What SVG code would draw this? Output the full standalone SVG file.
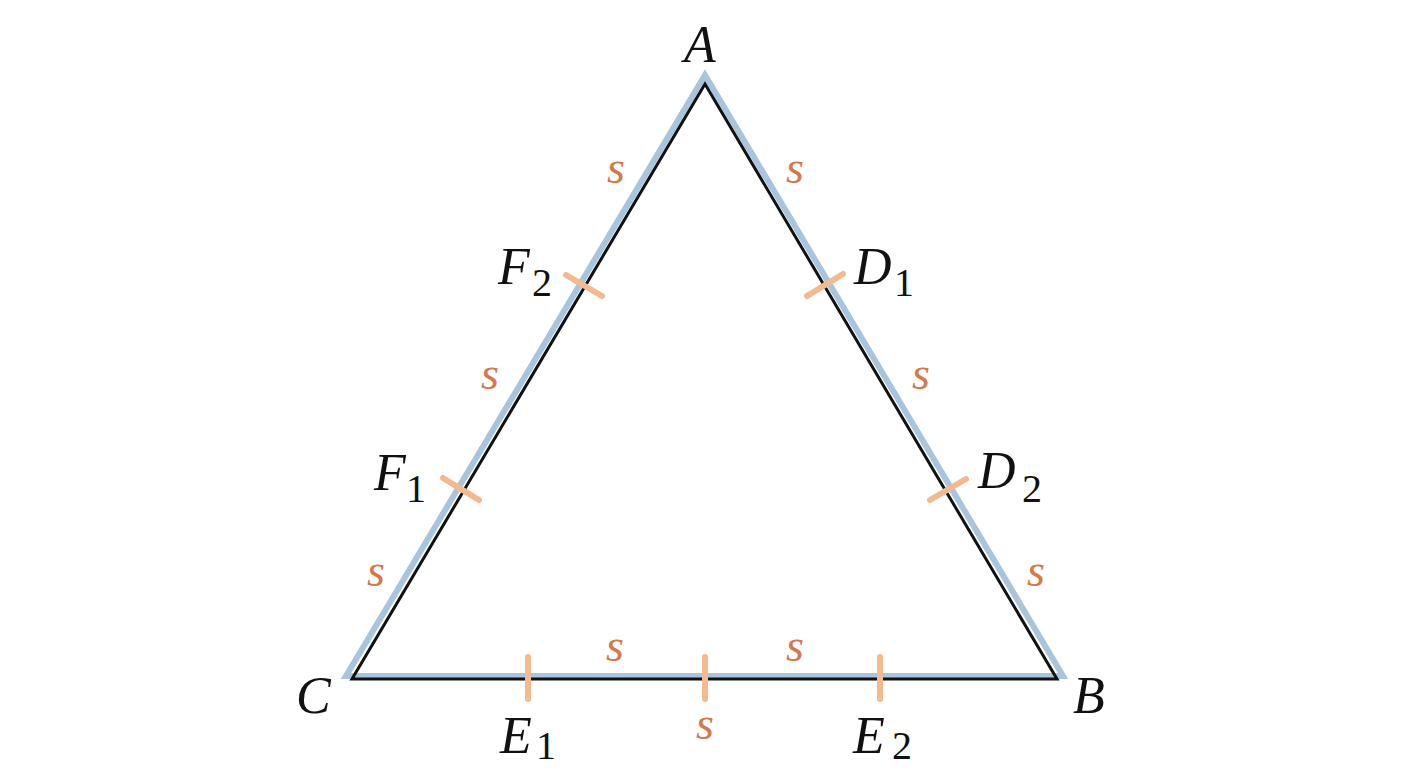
<svg xmlns="http://www.w3.org/2000/svg" width="1408" height="768" viewBox="0 0 1408 768">
<defs>
<style>
.tick{stroke:#f3b98f;stroke-width:6;stroke-linecap:round}
</style>
</defs>
<rect width="1408" height="768" fill="#fff"/>
<g id="connectors">
<polygon points="705,75 1063,676 346,676" fill="none" stroke="#a9c5de" stroke-width="6" stroke-linejoin="miter"/>
<polygon points="705,84 1057,679 352,679" fill="none" stroke="#111" stroke-width="3" stroke-linejoin="miter"/>
</g>
<g id="ticks">
<line class="tick" x1="566" y1="275" x2="602" y2="296"/>
<line class="tick" x1="443" y1="478" x2="479" y2="500"/>
<line class="tick" x1="807" y1="296" x2="843" y2="274"/>
<line class="tick" x1="930" y1="500" x2="966" y2="479"/>
<line class="tick" x1="528" y1="657" x2="528" y2="699"/>
<line class="tick" x1="705" y1="657" x2="705" y2="699"/>
<line class="tick" x1="880" y1="657" x2="880" y2="699"/>
</g>
<g id="node-A"><text x="684" y="62" font-family="Liberation Serif, Times New Roman, serif" font-style="italic" font-size="52" fill="#111">A</text></g>
<g id="node-B"><text x="1073" y="713" font-family="Liberation Serif, Times New Roman, serif" font-style="italic" font-size="52" fill="#111">B</text></g>
<g id="node-C"><text x="296" y="713" font-family="Liberation Serif, Times New Roman, serif" font-style="italic" font-size="52" fill="#111">C</text></g>
<g id="node-F2"><text x="498" y="284" font-family="Liberation Serif, Times New Roman, serif" font-style="italic" font-size="52" fill="#111">F</text><text x="532" y="296" font-family="Liberation Serif, Times New Roman, serif" font-size="40" fill="#111">2</text></g>
<g id="node-F1"><text x="374" y="490" font-family="Liberation Serif, Times New Roman, serif" font-style="italic" font-size="52" fill="#111">F</text><text x="406" y="502" font-family="Liberation Serif, Times New Roman, serif" font-size="40" fill="#111">1</text></g>
<g id="node-D1"><text x="854" y="284" font-family="Liberation Serif, Times New Roman, serif" font-style="italic" font-size="52" fill="#111">D</text><text x="894" y="296" font-family="Liberation Serif, Times New Roman, serif" font-size="40" fill="#111">1</text></g>
<g id="node-D2"><text x="978" y="488" font-family="Liberation Serif, Times New Roman, serif" font-style="italic" font-size="52" fill="#111">D</text><text x="1022" y="502" font-family="Liberation Serif, Times New Roman, serif" font-size="40" fill="#111">2</text></g>
<g id="node-E1"><text x="500" y="753" font-family="Liberation Serif, Times New Roman, serif" font-style="italic" font-size="52" fill="#111">E</text><text x="536" y="759" font-family="Liberation Serif, Times New Roman, serif" font-size="40" fill="#111">1</text></g>
<g id="node-E2"><text x="853" y="753" font-family="Liberation Serif, Times New Roman, serif" font-style="italic" font-size="52" fill="#111">E</text><text x="892" y="759" font-family="Liberation Serif, Times New Roman, serif" font-size="40" fill="#111">2</text></g>
<g id="s-labels">
<text x="616" y="183" font-family="Liberation Serif, Times New Roman, serif" font-style="italic" font-size="46" fill="#d5774b" text-anchor="middle">s</text>
<text x="795" y="183" font-family="Liberation Serif, Times New Roman, serif" font-style="italic" font-size="46" fill="#d5774b" text-anchor="middle">s</text>
<text x="490" y="389" font-family="Liberation Serif, Times New Roman, serif" font-style="italic" font-size="46" fill="#d5774b" text-anchor="middle">s</text>
<text x="921" y="389" font-family="Liberation Serif, Times New Roman, serif" font-style="italic" font-size="46" fill="#d5774b" text-anchor="middle">s</text>
<text x="376" y="586" font-family="Liberation Serif, Times New Roman, serif" font-style="italic" font-size="46" fill="#d5774b" text-anchor="middle">s</text>
<text x="1036" y="586" font-family="Liberation Serif, Times New Roman, serif" font-style="italic" font-size="46" fill="#d5774b" text-anchor="middle">s</text>
<text x="615" y="661" font-family="Liberation Serif, Times New Roman, serif" font-style="italic" font-size="46" fill="#d5774b" text-anchor="middle">s</text>
<text x="795" y="661" font-family="Liberation Serif, Times New Roman, serif" font-style="italic" font-size="46" fill="#d5774b" text-anchor="middle">s</text>
<text x="705" y="739" font-family="Liberation Serif, Times New Roman, serif" font-style="italic" font-size="46" fill="#d5774b" text-anchor="middle">s</text>
</g>
</svg>
